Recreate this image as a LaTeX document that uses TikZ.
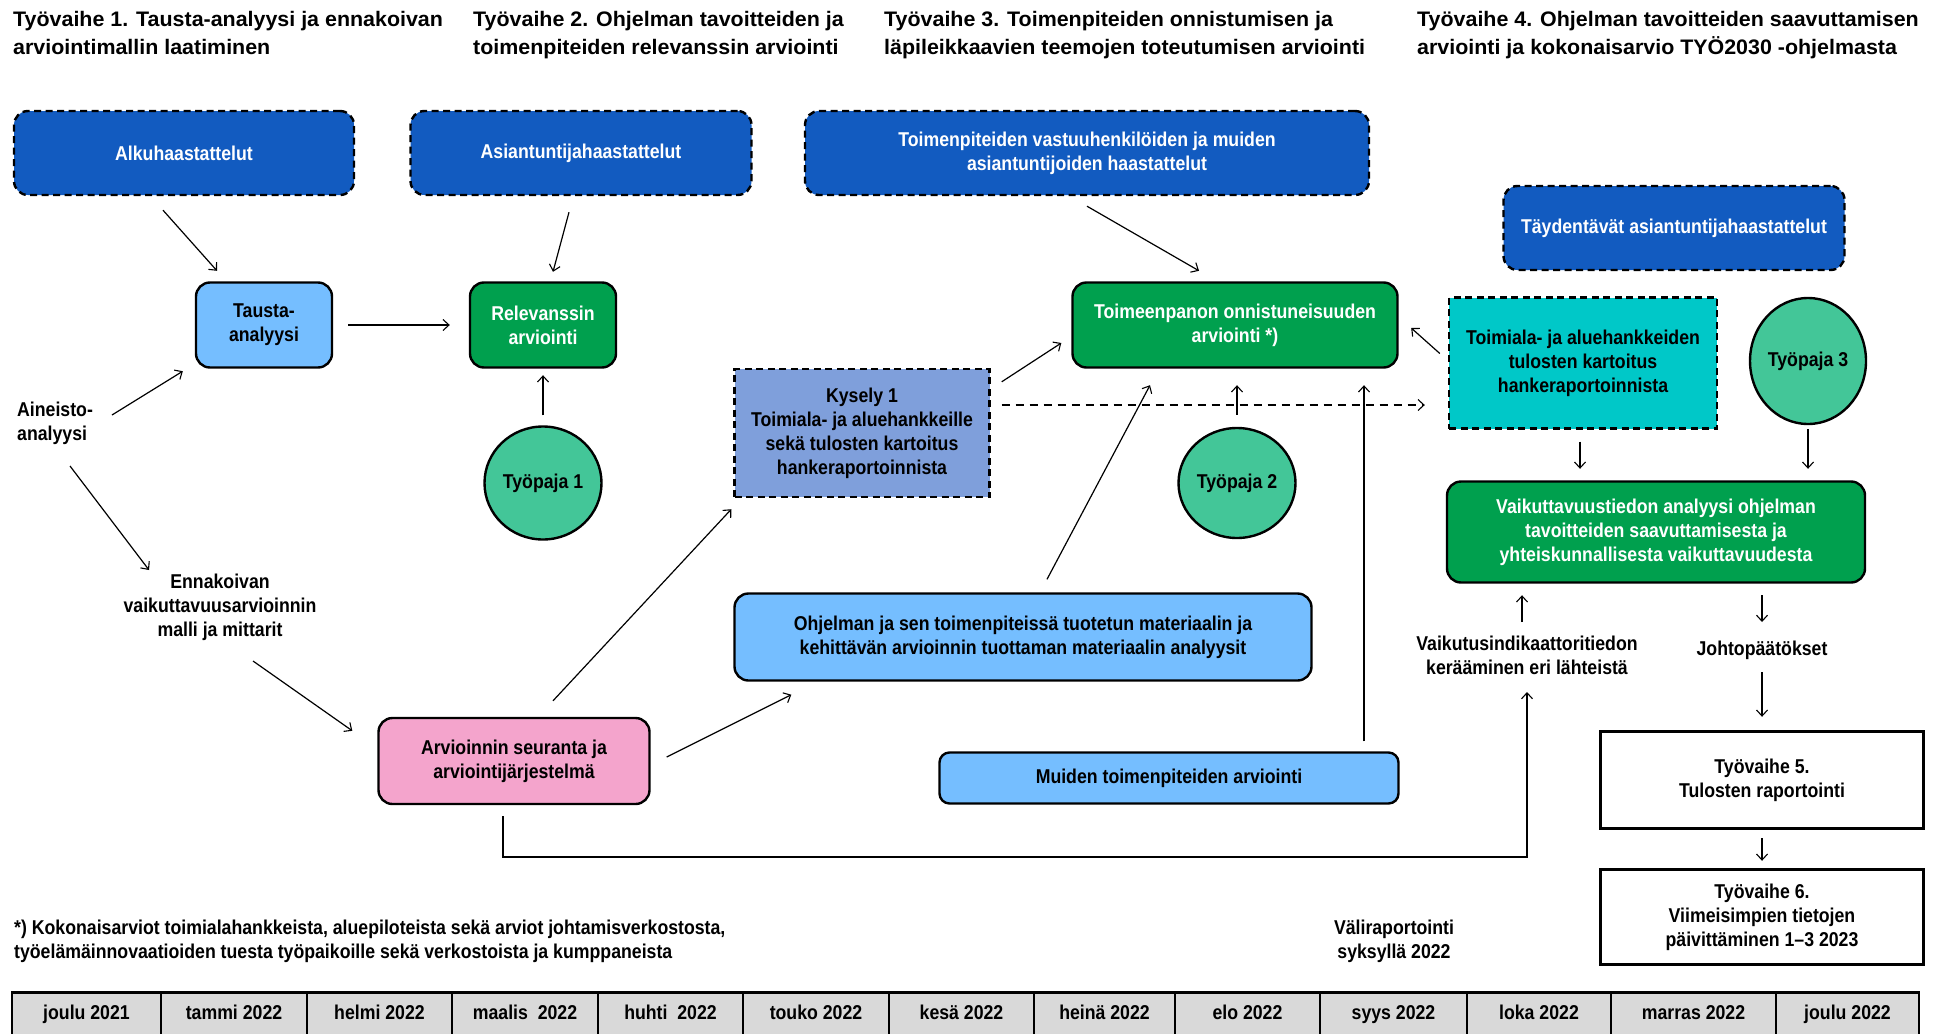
\documentclass[tikz,border=0pt]{standalone}
\usepackage{fontspec}
\setmainfont{Liberation Sans}[FakeStretch=0.885]
\newfontfamily\headfont{Liberation Sans}[FakeStretch=1.02]
\usetikzlibrary{arrows.meta,calc,shapes.geometric}

\definecolor{darkblue}{RGB}{18,91,192}
\definecolor{lightblue}{RGB}{117,190,255}
\definecolor{evalgreen}{RGB}{0,160,78}
\definecolor{tealbox}{RGB}{0,200,200}
\definecolor{periwinkle}{RGB}{127,159,219}
\definecolor{pinkbox}{RGB}{244,164,204}
\definecolor{workshop}{RGB}{67,198,152}
\definecolor{cellgray}{RGB}{217,217,217}

\begin{document}
\begin{tikzpicture}[x=1pt, y=-1pt,
  font=\bfseries\fontsize{20}{24}\selectfont,
  base/.style={align=center, inner sep=2pt, line width=2.4pt},
  solidbox/.style={base, draw=black, rounded corners=14pt},
  interview/.style={base, draw=black, dash pattern=on 7pt off 4.5pt,
    fill=darkblue, text=white, rounded corners=14pt},
  survey/.style={base, draw=black, dash pattern=on 7pt off 4.5pt},
  workshopnode/.style={ellipse, draw=black, line width=2.4pt, fill=workshop, inner sep=0pt},
  phase/.style={base, draw=black, fill=white},
  title/.style={align=left, inner sep=0pt, anchor=north west,
    font=\headfont\bfseries\fontsize{21}{28}\selectfont},
  plain/.style={inner sep=0pt},
  cell/.style={draw=black, line width=1.2pt, fill=cellgray, minimum height=42pt,
    inner sep=0pt, text height=14.5pt, text depth=4.5pt},
  arr/.style={line width=1.2pt, -{Straight Barb[length=6pt,width=11pt,line width=1.1pt]}},
  dasharr/.style={arr, dash pattern=on 8pt off 6pt},
]
\useasboundingbox (0,0) rectangle (1948,1033);
\fill[white] (0,0) rectangle (1948,1033);

% phase headings
\node[title] (t1) at (13,11) {Työvaihe 1. Tausta-analyysi ja ennakoivan\\arviointimallin laatiminen};
\node[title] (t2) at (473,11) {Työvaihe 2. Ohjelman tavoitteiden ja\\toimenpiteiden relevanssin arviointi};
\node[title] (t3) at (884,11) {Työvaihe 3. Toimenpiteiden onnistumisen ja\\läpileikkaavien teemojen toteutumisen arviointi};
\node[title] (t4) at (1417,11) {Työvaihe 4. Ohjelman tavoitteiden saavuttamisen\\arviointi ja kokonaisarvio TYÖ2030 -ohjelmasta};

% interviews
\node[interview, minimum width=340pt, minimum height=84pt] (alku) at (184,153) {Alkuhaastattelut};
\node[interview, minimum width=341pt, minimum height=84pt] (asian) at (581,153) {Asiantuntijahaastattelut};
\node[interview, minimum width=564pt, minimum height=84pt] (vastuu) at (1087,153)
  {Toimenpiteiden vastuuhenkilöiden ja muiden\\asiantuntijoiden haastattelut};
\node[interview, minimum width=341pt, minimum height=84pt] (tayd) at (1674,228) {Täydentävät asiantuntijahaastattelut};

% evaluation boxes
\node[solidbox, fill=lightblue, minimum width=136pt, minimum height=85pt] (tausta) at (264,325) {Tausta-\\analyysi};
\node[solidbox, fill=evalgreen, text=white, minimum width=146pt, minimum height=85pt] (relev) at (543,325) {Relevanssin\\arviointi};
\node[solidbox, fill=evalgreen, text=white, minimum width=325pt, minimum height=85pt] (toimeen) at (1235,325)
  {Toimeenpanon onnistuneisuuden\\arviointi *)};
\node[survey, fill=tealbox, minimum width=268pt, minimum height=131pt] (toimiala) at (1583,363)
  {Toimiala- ja aluehankkeiden\\tulosten kartoitus\\hankeraportoinnista};
\node[survey, fill=periwinkle, minimum width=255pt, minimum height=128pt] (kysely) at (862,433)
  {Kysely 1\\Toimiala- ja aluehankkeille\\sekä tulosten kartoitus\\hankeraportoinnista};
\node[solidbox, fill=lightblue, minimum width=577pt, minimum height=87pt] (ohj) at (1023,637)
  {Ohjelman ja sen toimenpiteissä tuotetun materiaalin ja\\kehittävän arvioinnin tuottaman materiaalin analyysit};
\node[solidbox, fill=lightblue, minimum width=459pt, minimum height=51pt, rounded corners=10pt] (muiden) at (1169,778)
  {Muiden toimenpiteiden arviointi};
\node[solidbox, fill=pinkbox, minimum width=271pt, minimum height=86pt] (arv) at (514,761)
  {Arvioinnin seuranta ja\\arviointijärjestelmä};
\node[solidbox, fill=evalgreen, text=white, minimum width=418pt, minimum height=101pt] (vaik) at (1656,532)
  {Vaikuttavuustiedon analyysi ohjelman\\tavoitteiden saavuttamisesta ja\\yhteiskunnallisesta vaikuttavuudesta};

% workshops
\node[workshopnode, minimum width=117pt, minimum height=113pt] (tp1) at (543,483) {Työpaja 1};
\node[workshopnode, minimum width=117pt, minimum height=110pt] (tp2) at (1237,483) {Työpaja 2};
\node[workshopnode, minimum width=116pt, minimum height=126pt] (tp3) at (1808,361) {Työpaja 3};

% reporting phases
\node[phase, minimum width=323pt, minimum height=97pt] (tv5) at (1762,780) {Työvaihe 5.\\Tulosten raportointi};
\node[phase, minimum width=323pt, minimum height=95pt] (tv6) at (1762,917) {Työvaihe 6.\\Viimeisimpien tietojen\\päivittäminen 1–3 2023};

% free labels
\node[plain, align=left, anchor=west] (aineisto) at (17,423) {Aineisto-\\analyysi};
\node[plain, align=center] (ennak) at (220,607) {Ennakoivan\\vaikuttavuusarvioinnin\\malli ja mittarit};
\node[plain, align=center] (vaikind) at (1527,655) {Vaikutusindikaattoritiedon\\kerääminen eri lähteistä};
\node[plain] (johto) at (1762,650) {Johtopäätökset};
\node[plain, align=left, anchor=west] (foot) at (14,941)
  {*) Kokonaisarviot toimialahankkeista, aluepiloteista sekä arviot johtamisverkostosta,\\työelämäinnovaatioiden tuesta työpaikoille sekä verkostoista ja kumppaneista};
\node[plain, align=center] (vali) at (1394,941) {Väliraportointi\\syksyllä 2022};

% timeline
\node[cell, minimum width=149pt] (m1) at (86.5,1014) {joulu 2021};
\node[cell, minimum width=146pt] (m2) at (234,1014) {tammi 2022};
\node[cell, minimum width=145pt] (m3) at (379.5,1014) {helmi 2022};
\node[cell, minimum width=146pt] (m4) at (525,1014) {maalis~ 2022};
\node[cell, minimum width=145pt] (m5) at (670.5,1014) {huhti~ 2022};
\node[cell, minimum width=146pt] (m6) at (816,1014) {touko 2022};
\node[cell, minimum width=145pt] (m7) at (961.5,1014) {kesä 2022};
\node[cell, minimum width=141pt] (m8) at (1104.5,1014) {heinä 2022};
\node[cell, minimum width=145pt] (m9) at (1247.5,1014) {elo 2022};
\node[cell, minimum width=147pt] (m10) at (1393.5,1014) {syys 2022};
\node[cell, minimum width=144pt] (m11) at (1539,1014) {loka 2022};
\node[cell, minimum width=165pt] (m12) at (1693.5,1014) {marras 2022};
\node[cell, minimum width=143pt] (m13) at (1847.5,1014) {joulu 2022};
\draw[line width=3pt] (m1.north west) -- (m13.north east);

% connectors
\draw[arr] ([shift={(-21,14)}]alku.south) -- ([shift={(-47,-10.5)}]tausta.north);
\draw[arr] ([shift={(-12,16)}]asian.south) -- ([shift={(10,-9.5)}]relev.north);
\draw[arr, shorten <=15pt, shorten >=19pt] (tausta.east) -- (relev.west);
\draw[arr] ([shift={(95,-8)}]aineisto.west) -- ([shift={(-12,2.5)}]tausta.south west);
\draw[arr] ([shift={(53,43)}]aineisto.west) -- ([shift={(-71,-37)}]ennak.center);
\draw[arr, shorten <=10pt, shorten >=6.5pt] (tp1.north) -- (relev.south);
\draw[arr] ([shift={(33,54)}]ennak.center) -- ([shift={(-25,14)}]arv.north west);
\draw[arr] ([shift={(39,-16)}]arv.north) -- ([shift={(-2,11)}]kysely.south west);
\draw[arr] ([shift={(16,-4)}]arv.east) -- ([shift={(58,13)}]ohj.south west);
\draw[arr] ([shift={(11,14)}]kysely.north east) -- ([shift={(-10,18)}]toimeen.west);
\draw[arr] ([shift={(24,-13)}]ohj.north) -- ([shift={(-85,16.5)}]toimeen.south);
\draw[arr, shorten <=12pt, shorten >=16.5pt] (tp2.north) -- (tp2.north |- toimeen.south);
\coordinate (mu) at ([shift={(195,-10)}]muiden.north);
\draw[arr, shorten >=16.5pt] (mu) -- (mu |- toimeen.south);
\coordinate (ks) at ([shift={(11,-28)}]kysely.east);
\draw[dasharr, shorten >=23pt] (ks) -- (ks -| toimiala.west);
\draw[arr] ([shift={(0,10)}]vastuu.south) -- ([shift={(-36,-10.5)}]toimeen.north);
\draw[arr] ([shift={(-8,-9.5)}]toimiala.west) -- ([shift={(12.5,3)}]toimeen.east);
\coordinate (ts) at ([shift={(-3,12)}]toimiala.south);
\draw[arr, shorten >=11.5pt] (ts) -- (ts |- vaik.north);
\draw[arr, shorten <=4pt, shorten >=11.5pt] (tp3.south) -- (tp3.south |- vaik.north);
\coordinate (vi) at ([shift={(-5,-33)}]vaikind.center);
\draw[arr, shorten >=11.5pt] (vi) -- (vi |- vaik.south);
\draw[arr, shorten <=11.5pt] (johto |- vaik.south) -- ([shift={(0,-28)}]johto.center);
\draw[arr, shorten >=13.5pt] ([shift={(0,22)}]johto.center) -- (tv5.north);
\draw[arr, shorten <=8.5pt, shorten >=7.5pt] (tv5.south) -- (tv6.north);
\draw[arr] ([shift={(-11,11)}]arv.south) |- ([shift={(0,202)}]vaikind.center) -- ([shift={(0,37)}]vaikind.center);
\end{tikzpicture}
\end{document}
